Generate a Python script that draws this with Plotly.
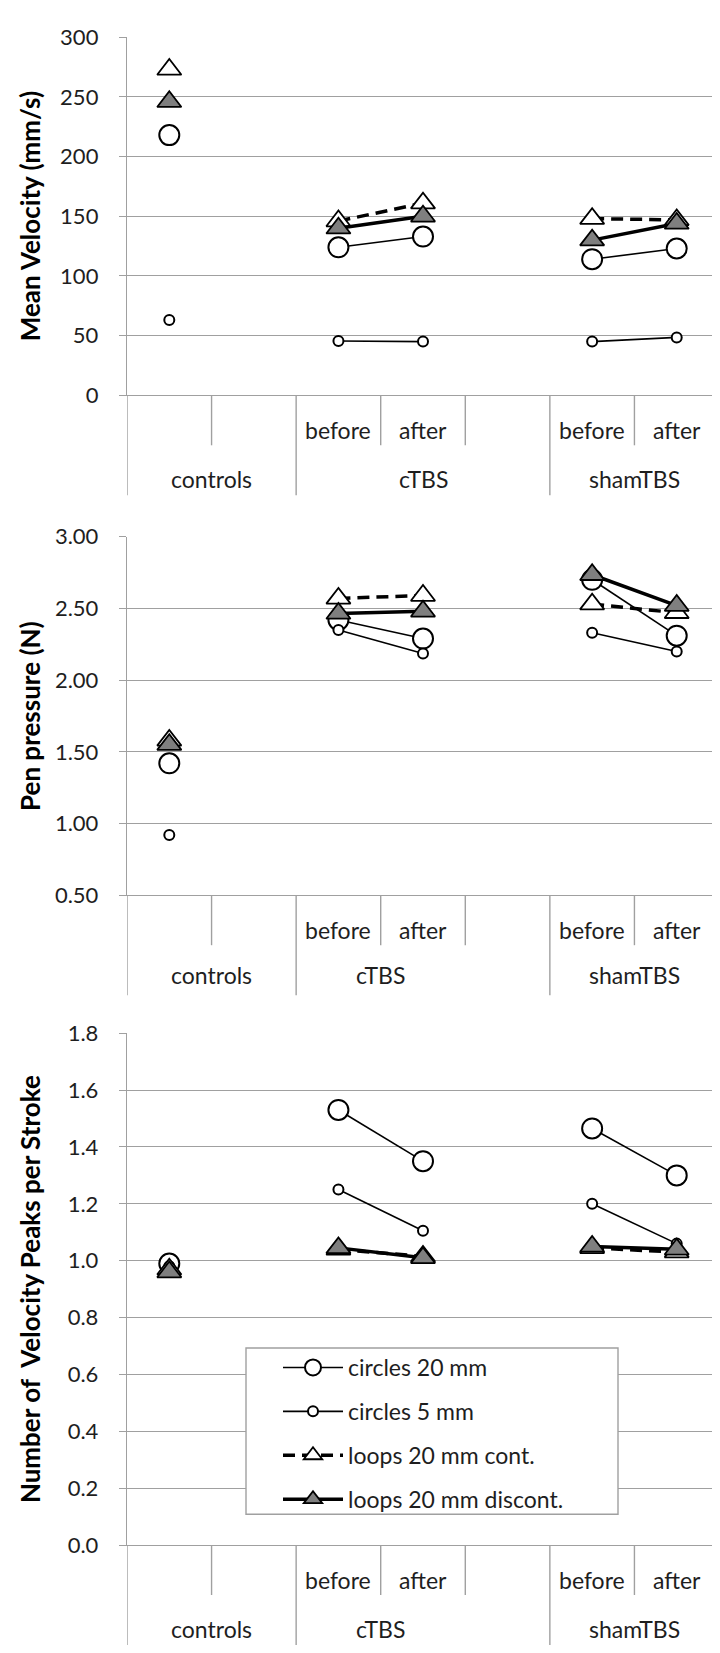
import plotly.graph_objects as go

# ---------------- data ----------------
slots = [1, 2, 3, 4, 5, 6, 7]
inner_labels = ["", "", "before", "after", "", "before", "after"]
outer_groups = ["controls", "cTBS", "shamTBS"]

series_names = ["circles 20 mm", "circles 5 mm", "loops 20 mm cont.", "loops 20 mm discont."]

# Mean velocity (mm/s)
vel_c20 = [218, None, 124, 133, None, 114, 123]
vel_c5 = [63, None, 45.5, 45, None, 45, 48.5]
vel_cont = [273, None, 146, 161, None, 148, 147]
vel_disc = [246, None, 140, 150, None, 130, 144]

# Pen pressure (N)
pp_c20 = [1.42, None, 2.42, 2.29, None, 2.70, 2.31]
pp_c5 = [0.92, None, 2.35, 2.185, None, 2.33, 2.20]
pp_cont = [1.58, None, 2.57, 2.59, None, 2.53, 2.47]
pp_disc = [1.55, None, 2.465, 2.48, None, 2.735, 2.52]

# Number of velocity peaks per stroke
nv_c20 = [0.99, None, 1.53, 1.35, None, 1.465, 1.30]
nv_c5 = [0.98, None, 1.25, 1.105, None, 1.20, 1.06]
nv_cont = [0.97, None, 1.04, 1.015, None, 1.045, 1.03]
nv_disc = [0.96, None, 1.045, 1.01, None, 1.05, 1.04]

# ---------------- layout constants ----------------
W, H = 720, 1653
FONT = "Lato, 'Open Sans', sans-serif"
GRID = "#a0a0a0"
TXT = "#1e1e1e"

def fy(px):
    return 1 - px / H

panels = [
    dict(top=15.5, bottom=379.5, rng=[0, 300], dtick=50, fmt="d",
         title="Mean Velocity (mm/s)",
         data=[vel_c20, vel_c5, vel_cont, vel_disc], ctbs_x=4.0, outer_shift=84),
    dict(top=523.3, bottom=887.7, rng=[0.5, 3.0], dtick=0.5, fmt=".2f",
         title="Pen pressure (N)",
         data=[pp_c20, pp_c5, pp_cont, pp_disc], ctbs_x=3.5, outer_shift=80),
    dict(top=1028, bottom=1548.3, rng=[0, 1.8], dtick=0.2, fmt=".1f",
         title="Number of  Velocity Peaks per Stroke",
         data=[nv_c20, nv_c5, nv_cont, nv_disc], ctbs_x=3.5, outer_shift=84),
]

styles = [
    dict(marker=dict(symbol="circle", size=20, color="white", line=dict(color="black", width=2)),
         line=dict(color="black", width=1.6)),
    dict(marker=dict(symbol="circle", size=10, color="white", line=dict(color="black", width=2)),
         line=dict(color="black", width=1.6)),
    dict(marker=dict(symbol="triangle-up", size=21, color="white", line=dict(color="black", width=1.8)),
         line=dict(color="black", width=3.5, dash="12px,7px")),
    dict(marker=dict(symbol="triangle-up", size=21, color="#7f7f7f", line=dict(color="black", width=1.8)),
         line=dict(color="black", width=3.5)),
]

X0, X1 = 119, 711

fig = go.Figure()
layout = dict(width=W, height=H, margin=dict(l=0, r=0, t=0, b=0),
              paper_bgcolor="white", plot_bgcolor="white",
              font=dict(family=FONT, size=22, color=TXT))
annotations = []
shapes = []

for i, p in enumerate(panels):
    k = "" if i == 0 else str(i + 1)
    xa, ya = "x" + k, "y" + k
    layout["xaxis" + k] = dict(domain=[X0 / W, X1 / W], range=[0.5, 7.5], anchor=ya,
                               showticklabels=False, showgrid=False, zeroline=False,
                               showline=True, linecolor=GRID, linewidth=1.4, ticks="")
    layout["yaxis" + k] = dict(domain=[fy(p["bottom"]), fy(p["top"])], range=p["rng"],
                               dtick=p["dtick"], tick0=0, tickformat=p["fmt"], anchor=xa,
                               showgrid=True, gridcolor=GRID, gridwidth=1.4,
                               zeroline=False, showline=True, linecolor=GRID, linewidth=1.4,
                               ticks="outside", ticklen=7, tickcolor=GRID, tickwidth=1.4,
                               ticklabelstandoff=16,
                               tickfont=dict(family=FONT, size=22, color=TXT))
    for j, vals in enumerate(p["data"]):
        fig.add_trace(go.Scatter(x=slots, y=vals, mode="lines+markers", connectgaps=False,
                                 name=series_names[j], legendgroup=series_names[j],
                                 showlegend=(i == 2), xaxis=xa, yaxis=ya,
                                 marker=styles[j]["marker"], line=styles[j]["line"],
                                 hoverinfo="skip"))
    # y-axis title
    annotations.append(dict(text="<b>" + p["title"] + "</b>", xref="paper", yref="paper",
                            x=22 / W, y=(fy(p["bottom"]) + fy(p["top"])) / 2,
                            textangle=-90, showarrow=False, xanchor="center", yanchor="middle",
                            font=dict(family=FONT, size=26, color="black")))
    # inner category labels
    for s, lab in zip(slots, inner_labels):
        if lab:
            annotations.append(dict(text=lab, xref=xa, yref=ya + " domain", x=s, y=0,
                                    yshift=-35, showarrow=False, yanchor="middle",
                                    font=dict(family=FONT, size=23, color=TXT)))
    # outer group labels
    for gx, lab in zip([1.5, p["ctbs_x"], 6.5], outer_groups):
        annotations.append(dict(text=lab, xref=xa, yref=ya + " domain", x=gx, y=0,
                                yshift=-p["outer_shift"], showarrow=False, yanchor="middle",
                                font=dict(family=FONT, size=23, color=TXT)))
    # separators
    for b, ln in [(0.5, 100), (1.5, 50), (2.5, 100), (3.5, 50), (4.5, 50),
                  (5.5, 100), (6.5, 50), (7.5, 100)]:
        shapes.append(dict(type="line", xref=xa, yref=ya + " domain", x0=b, x1=b,
                           ysizemode="pixel", yanchor=0, y0=0, y1=-ln,
                           line=dict(color=GRID, width=1.4)))

# legend box
shapes.append(dict(type="rect", xref="paper", yref="paper", x0=238 / W, x1=610 / W,
                   y0=fy(1517), y1=fy(1348), fillcolor="white",
                   line=dict(color=GRID, width=1.4), layer="above"))

layout["annotations"] = annotations
layout["shapes"] = shapes
layout["legend"] = dict(x=270 / W, y=fy(1346), xanchor="left", yanchor="top",
                        bgcolor="rgba(0,0,0,0)", borderwidth=0, itemwidth=60,
                        tracegroupgap=11, traceorder="grouped",
                        font=dict(family=FONT, size=23, color=TXT))
fig.update_layout(**layout)

fig.write_html("out.html")
